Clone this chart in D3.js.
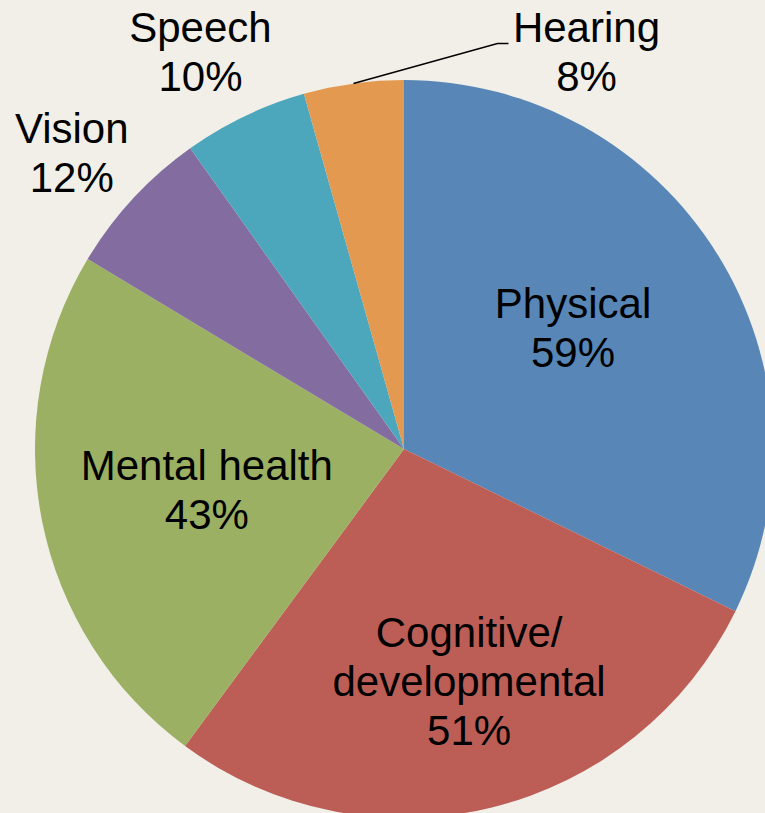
<!DOCTYPE html>
<html><head>
<meta charset="utf-8">
<script src="https://d3js.org/d3.v7.min.js"></script>
<style>
  body { margin: 0; background: #f1efe8; }
  svg { display: block; }
  text { font-family: "Liberation Sans", Arial, sans-serif; fill: #000; }
</style>
</head>
<body>
<div id="chart"></div>
<script>

// data
var categories = ["Physical", "Cognitive/\ndevelopmental", "Mental health", "Vision", "Speech", "Hearing"];
var values = [59, 51, 43, 12, 10, 8];
var colors = ["#5786b7", "#bc5e56", "#9bb062", "#826ca0", "#4da7bc", "#e39950"];

var width = 765, height = 813;
var cx = 404, cy = 449, radius = 369;

var svg = d3.select("#chart").append("svg")
    .attr("width", width)
    .attr("height", height);

var g = svg.append("g")
    .attr("transform", "translate(" + cx + "," + cy + ")");

var pie = d3.pie().sort(null).value(function(d) { return d; });
var arcs = pie(values);

var arc = d3.arc().innerRadius(0).outerRadius(radius);

g.selectAll("path.slice")
  .data(arcs)
  .enter().append("path")
    .attr("class", "slice")
    .attr("d", arc)
    .attr("fill", function(d, i) { return colors[i]; });

// label radius factor for each slice (inside labels < 1, outside > 1), plus small nudges
var labelR = [0.54, 0.65, 0.545, 1.19, 1.19, 1.19];
var nudge = [[0, -15], [8, 0], [0, 2], [-10, 3], [-14, 0], [0, 0]];
var lineH = 49;

function labelPos(d, i) {
  var a = (d.startAngle + d.endAngle) / 2;
  var r = radius * labelR[i];
  return [Math.sin(a) * r + nudge[i][0], -Math.cos(a) * r + nudge[i][1]];
}

arcs.forEach(function(d, i) {
  var lines = categories[i].split("\n").concat([values[i] + "%"]);
  var p = labelPos(d, i);
  // hearing label is moved out to the right with a leader line
  if (i === 5) {
    var a = (d.startAngle + d.endAngle) / 2;
    var sx = Math.sin(a) * radius, sy = -Math.cos(a) * radius;
    var ex = sx + 144, ey = sy - 40;
    g.append("polyline")
      .attr("points", [[sx, sy], [ex, ey], [ex + 11, ey]].map(function(q) { return q.join(","); }).join(" "))
      .attr("fill", "none")
      .attr("stroke", "#000")
      .attr("stroke-width", 1.5);
    p = [ex + 89, ey + 9];
  }
  var t = g.append("text")
    .attr("text-anchor", "middle")
    .style("font-size", "42px");
  var y0 = p[1] - (lines.length - 1) * lineH / 2 + 14;
  lines.forEach(function(s, k) {
    t.append("tspan")
      .attr("x", p[0])
      .attr("y", y0 + k * lineH)
      .text(s);
  });
});

</script>
</body></html>
